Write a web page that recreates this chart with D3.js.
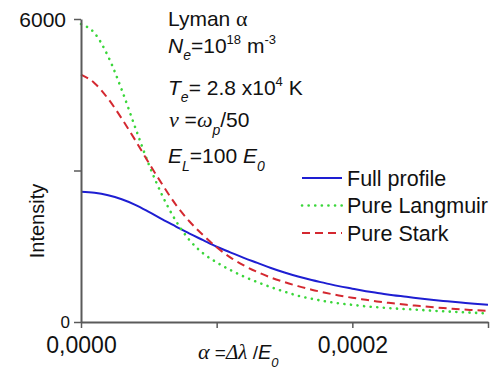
<!DOCTYPE html>
<html>
<head>
<meta charset="utf-8">
<script src="https://cdn.jsdelivr.net/npm/d3@7"></script>
<style>
  body { margin: 0; background: #fff; }
  text { font-family: "Liberation Sans", Arial, sans-serif; fill: #111; }
</style>
</head>
<body>
<svg id="chart" width="501" height="374"></svg>
<script>
// alpha = Δλ / E0
const alpha = [0, 0.00001, 0.00002, 0.00003, 0.00004, 0.00005, 0.00006, 0.00007, 0.00008, 0.00009,
  0.0001, 0.00011, 0.00012, 0.00013, 0.00014, 0.00015, 0.00016, 0.00017, 0.00018, 0.00019,
  0.0002, 0.00021, 0.00022, 0.00023, 0.00024, 0.00025, 0.00026, 0.00027, 0.00028, 0.00029, 0.0003]
const fullProfile = [2580, 2560, 2510, 2430, 2320, 2180, 2030, 1890, 1750, 1620,
  1490, 1380, 1270, 1170, 1070, 980, 900, 830, 770, 710,
  660, 610, 570, 530, 500, 465, 435, 410, 385, 360, 340]
const pureLangmuir = [5900, 5720, 5260, 4600, 3850, 3120, 2500, 2000, 1620, 1360,
  1180, 1030, 900, 790, 690, 600, 520, 460, 410, 370,
  340, 310, 290, 270, 255, 240, 222, 208, 195, 182, 170]
const pureStark = [4900, 4730, 4420, 4030, 3600, 3150, 2720, 2320, 1990, 1720,
  1480, 1280, 1120, 990, 880, 790, 710, 640, 580, 525,
  480, 440, 400, 370, 340, 315, 290, 270, 250, 235, 220]
const xTicks = [0, 0.0001, 0.0002, 0.0003]
const xTickLabels = ['0,0000', '', '0,0002', '']
const yTicks = [0, 3000, 6000]
const yTickLabels = ['0', '', '6000']

const series = [
  { name: 'Full profile', values: fullProfile, color: '#1e1ed2', dash: null, width: 2 },
  { name: 'Pure Langmuir', values: pureLangmuir, color: '#3ad63a', dash: '0.1 6.5', width: 2.6 },
  { name: 'Pure Stark', values: pureStark, color: '#d42830', dash: '8 5', width: 2 },
]

const svg = d3.select('#chart')
const x = d3.scaleLinear().domain([0, 0.0003]).range([81, 488])
const y = d3.scaleLinear().domain([0, 6000]).range([322, 19])
const axisColor = '#5a5a5a'

// curves
const line = d3.line().x((d, i) => x(alpha[i])).y((d) => y(d)).curve(d3.curveMonotoneX)
series.forEach((s) => {
  svg.append('path').datum(s.values).attr('fill', 'none')
    .attr('stroke', s.color).attr('stroke-width', s.width)
    .attr('stroke-linecap', s.dash && s.dash.startsWith('0.1') ? 'round' : 'butt')
    .attr('stroke-dasharray', s.dash).attr('d', line)
})

// axes
const xAxis = svg.append('g').attr('transform', 'translate(0,322)')
  .call(d3.axisBottom(x).tickValues(xTicks).tickSize(6).tickSizeOuter(0).tickFormat((d, i) => xTickLabels[i]))
xAxis.select('.domain').attr('stroke', axisColor).attr('stroke-width', 2)
xAxis.selectAll('.tick line').attr('stroke', axisColor).attr('stroke-width', 1.5)
xAxis.selectAll('.tick text').attr('font-size', 23).attr('font-family', '"Liberation Sans", Arial, sans-serif')
  .attr('fill', '#111').attr('dy', null).attr('y', 31)

const yAxis = svg.append('g').attr('transform', 'translate(81,0)')
  .call(d3.axisLeft(y).tickValues(yTicks).tickSize(7).tickSizeOuter(0).tickFormat((d, i) => yTickLabels[i]))
yAxis.select('.domain').attr('stroke', axisColor).attr('stroke-width', 2)
yAxis.selectAll('.tick line').attr('stroke', axisColor).attr('stroke-width', 1.5)
yAxis.selectAll('.tick text').attr('font-family', '"Liberation Sans", Arial, sans-serif')
  .attr('fill', '#111')
  .attr('x', (d) => (d === 0 ? -11 : -15))
  .attr('font-size', (d) => (d === 0 ? 17 : 21))
  .attr('dy', (d) => (d === 0 ? '0.3em' : '0.36em'))

// axis titles
svg.append('text').attr('transform', 'translate(44,221) rotate(-90)').attr('text-anchor', 'middle')
  .attr('font-size', 20).text('Intensity')

function rich(x0, base, size, parts) {
  const t = svg.append('text').attr('x', x0).attr('y', base).attr('font-size', size)
  parts.forEach((p) => {
    const ts = t.append('tspan').attr('y', base + (p.shift || 0)).text(p.t)
    if (p.size) ts.attr('font-size', p.size)
    if (p.italic) ts.attr('font-style', 'italic')
    if (p.serif) ts.attr('font-family', '"Liberation Serif", "DejaVu Serif", serif')
  })
  return t
}

const serif = true
rich(198, 359, 19, [
  { t: 'α', italic: true, serif, size: 22 },
  { t: ' =' },
  { t: 'Δλ', italic: true, serif, size: 21 },
  { t: ' /' },
  { t: 'E', italic: true, size: 20 },
  { t: '0', italic: true, size: 13, shift: 8 },
])

// annotation block
rich(168, 26, 21, [{ t: 'Lyman ' }, { t: 'α', serif, size: 22 }])
rich(168, 53, 21, [
  { t: 'N', italic: true }, { t: 'e', italic: true, size: 14, shift: 7 },
  { t: '=10' }, { t: '18', size: 13, shift: -9 }, { t: ' m' }, { t: '-3', size: 13, shift: -9 },
])
rich(168, 95, 21, [
  { t: 'T', italic: true }, { t: 'e', italic: true, size: 14, shift: 7 },
  { t: '= 2.8 x10' }, { t: '4', size: 13, shift: -9 }, { t: ' K' },
])
rich(169, 127, 21, [
  { t: 'ν', italic: true, serif, size: 22 }, { t: ' =' }, { t: 'ω', italic: true, serif, size: 22 },
  { t: 'p', italic: true, size: 14, shift: 8 }, { t: '/50' },
])
rich(168, 163, 21, [
  { t: 'E', italic: true }, { t: 'L', italic: true, size: 14, shift: 8 },
  { t: '=100 ' }, { t: 'E', italic: true }, { t: '0', italic: true, size: 14, shift: 8 },
])

// legend
const legend = svg.append('g')
series.forEach((s, i) => {
  const ly = 178 + i * 27.5
  legend.append('line').attr('x1', 302).attr('x2', 342).attr('y1', ly).attr('y2', ly)
    .attr('stroke', s.color).attr('stroke-width', s.width)
    .attr('stroke-linecap', s.dash && s.dash.startsWith('0.1') ? 'round' : 'butt')
    .attr('stroke-dasharray', s.dash)
  legend.append('text').attr('x', 347).attr('y', ly + 7.5).attr('font-size', 21.5).text(s.name)
})
</script>
</body>
</html>
